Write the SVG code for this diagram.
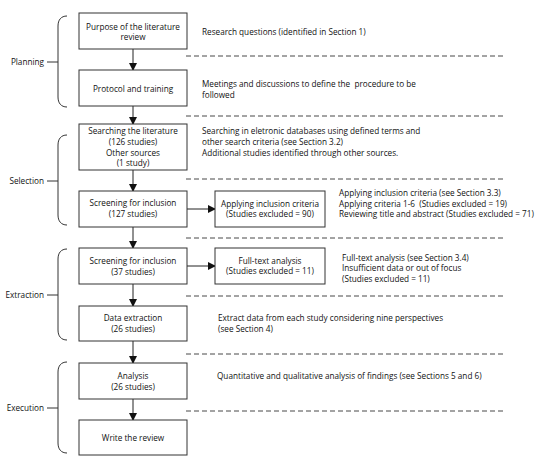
<svg xmlns="http://www.w3.org/2000/svg" width="550" height="464" viewBox="0 0 550 464">
<style>
text{font-family:"Open Sans","Noto Sans","Liberation Sans",sans-serif;font-size:8.2px;fill:#111}
.c{text-anchor:middle}
.e{text-anchor:end}
.box{fill:#fff;stroke:#333;stroke-width:1}
.br{fill:none;stroke:#333;stroke-width:1}
.dash{stroke:#333;stroke-width:0.9;stroke-dasharray:5,3;fill:none}
.ar{stroke:#222;stroke-width:1;fill:none;marker-end:url(#ah)}
</style>
<defs>
<marker id="ah" markerWidth="8" markerHeight="8" refX="7" refY="4" orient="auto" markerUnits="userSpaceOnUse">
<path d="M0,0 L8,4 L0,8 z" fill="#111"/>
</marker>
</defs>
<rect width="550" height="464" fill="#fff"/>

<g id="phases">
<g id="planning">
<text class="e" x="44" y="65">Planning</text>
<path class="br" d="M47,62 H58 M67,16 C61,16 58,20 58,26 L58,97 C58,103 61,107 67,107"/>
</g>
<g id="selection">
<text class="e" x="44" y="184">Selection</text>
<path class="br" d="M47,181 H58 M67,135 C61,135 58,139 58,145 L58,215 C58,221 61,225 67,225"/>
</g>
<g id="extraction">
<text class="e" x="44" y="298">Extraction</text>
<path class="br" d="M47,295 H58 M67,249 C61,249 58,253 58,259 L58,330 C58,336 61,340 67,340"/>
</g>
<g id="execution">
<text class="e" x="44" y="411">Execution</text>
<path class="br" d="M47,408 H58 M67,362 C61,362 58,366 58,372 L58,443 C58,449 61,453 67,453"/>
</g>
</g>

<g id="separators">
<path class="dash" d="M186,56 H503 M186,116 H503 M186,179 H503 M186,238 H503 M186,296 H503 M186,354 H503 M186,411 H503"/>
</g>

<g id="connectors">
<path class="ar" d="M133,49 V70"/>
<path class="ar" d="M133,106 V124"/>
<path class="ar" d="M133,170 V191"/>
<path class="ar" d="M133,227 V248"/>
<path class="ar" d="M133,284 V306"/>
<path class="ar" d="M133,341 V363"/>
<path class="ar" d="M133,399 V420"/>
<path class="ar" d="M187,209 H215"/>
<path class="ar" d="M187,266 H215"/>
</g>

<g id="n1">
<rect class="box" x="79" y="13" width="108" height="36"/>
<text class="c" x="133" y="30">Purpose of the literature</text>
<text class="c" x="133" y="40">review</text>
</g>
<g id="n2">
<rect class="box" x="79" y="70" width="108" height="36"/>
<text class="c" x="133" y="92">Protocol and training</text>
</g>
<g id="n3">
<rect class="box" x="79" y="124" width="108" height="46"/>
<text class="c" x="133" y="134">Searching the literature</text>
<text class="c" x="133" y="145">(126 studies)</text>
<text class="c" x="133" y="156">Other sources</text>
<text class="c" x="133" y="166">(1 study)</text>
</g>
<g id="n4">
<rect class="box" x="79" y="191" width="108" height="36"/>
<text class="c" x="133" y="206">Screening for inclusion</text>
<text class="c" x="133" y="217">(127 studies)</text>
</g>
<g id="n4b">
<rect class="box" x="215" y="191" width="110" height="36"/>
<text class="c" x="270" y="207">Applying inclusion criteria</text>
<text class="c" x="270" y="217">(Studies excluded = 90)</text>
</g>
<g id="n5">
<rect class="box" x="79" y="248" width="108" height="36"/>
<text class="c" x="133" y="264">Screening for inclusion</text>
<text class="c" x="133" y="275">(37 studies)</text>
</g>
<g id="n5b">
<rect class="box" x="215" y="248" width="110" height="36"/>
<text class="c" x="270" y="264">Full-text analysis</text>
<text class="c" x="270" y="274">(Studies excluded = 11)</text>
</g>
<g id="n6">
<rect class="box" x="79" y="306" width="108" height="35"/>
<text class="c" x="133" y="321">Data extraction</text>
<text class="c" x="133" y="332">(26 studies)</text>
</g>
<g id="n7">
<rect class="box" x="79" y="363" width="108" height="36"/>
<text class="c" x="133" y="379">Analysis</text>
<text class="c" x="133" y="390">(26 studies)</text>
</g>
<g id="n8">
<rect class="box" x="79" y="420" width="108" height="35"/>
<text class="c" x="133" y="441">Write the review</text>
</g>

<g id="notes">
<text x="202" y="35">Research questions (identified in Section 1)</text>
<text x="202" y="87" xml:space="preserve">Meetings and discussions to define the  procedure to be</text>
<text x="202" y="98">followed</text>
<text x="202" y="134">Searching in eletronic databases using defined terms and</text>
<text x="202" y="145">other search criteria (see Section 3.2)</text>
<text x="202" y="156">Additional studies identified through other sources.</text>
<text x="339" y="196">Applying inclusion criteria (see Section 3.3)</text>
<text x="339" y="207" xml:space="preserve">Applying criteria 1-6  (Studies excluded = 19)</text>
<text x="339" y="217">Reviewing title and abstract (Studies excluded = 71)</text>
<text x="342" y="261">Full-text analysis (see Section 3.4)</text>
<text x="342" y="271">Insufficient data or out of focus</text>
<text x="342" y="281.5">(Studies excluded = 11)</text>
<text x="218" y="321">Extract data from each study considering nine perspectives</text>
<text x="218" y="332">(see Section 4)</text>
<text x="217" y="379">Quantitative and qualitative analysis of findings (see Sections 5 and 6)</text>
</g>
</svg>
